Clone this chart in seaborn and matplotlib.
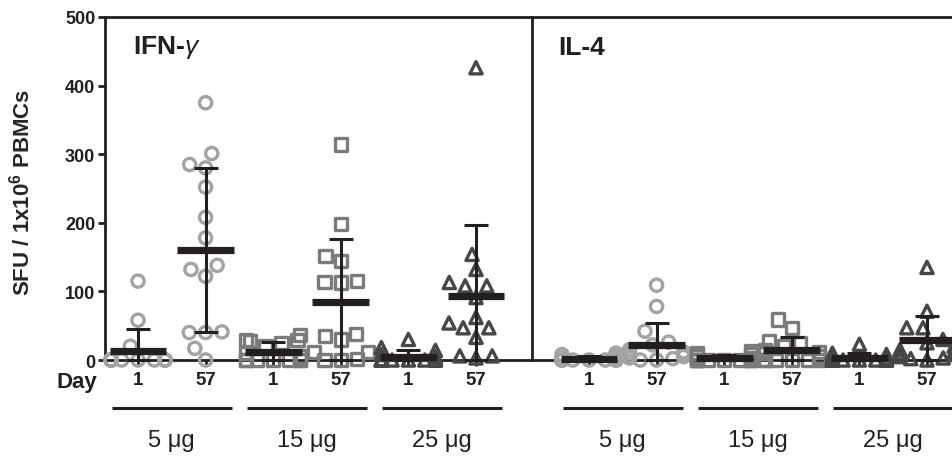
import warnings
import numpy as np
import pandas as pd
import matplotlib
matplotlib.use("Agg")
import matplotlib.pyplot as plt
import matplotlib.transforms as mtransforms
import seaborn as sns

warnings.filterwarnings("ignore")

# ---------------- data ----------------
cytokines = ["IFN-γ", "IL-4"]
doses = ["5 μg", "15 μg", "25 μg"]
days = ["1", "57"]

ifn_5_d1 = [115, 58, 20, 0, 0, 0, 0, 0, 0, 0, 0, 0, 0, 0, 0]
ifn_5_d57 = [375, 301, 285, 280, 252, 208, 178, 138, 132, 122, 40, 40, 41, 17, 0]
ifn_15_d1 = [37, 29, 29, 28, 25, 20, 10, 5, 0, 0, 0, 0, 0, 0, 0]
ifn_15_d57 = [314, 198, 152, 144, 115, 114, 113, 35, 38, 30, 12, 12, 2, 0, 0]
ifn_25_d1 = [30, 18, 14, 8, 5, 0, 0, 0, 0, 0, 0, 0, 0, 0, 0]
ifn_25_d57 = [426, 154, 132, 113, 108, 108, 91, 62, 54, 47, 47, 33, 6, 6, 3]

il4_5_d1 = [10, 8, 5, 3, 2, 0, 0, 0, 0, 0, 0, 0, 0, 0, 0]
il4_5_d57 = [109, 78, 42, 26, 22, 15, 12, 10, 8, 5, 5, 3, 2, 0, 0]
il4_15_d1 = [13, 10, 8, 5, 3, 0, 0, 0, 0, 0, 0, 0, 0, 0, 0]
il4_15_d57 = [59, 47, 28, 25, 20, 15, 12, 10, 5, 0, 0, 0, 0, 0, 0]
il4_25_d1 = [23, 10, 8, 5, 3, 2, 0, 0, 0, 0, 0, 0, 0, 0, 0]
il4_25_d57 = [135, 71, 47, 47, 30, 25, 20, 15, 12, 10, 8, 5, 3, 2, 0]

series = [
    ("IFN-γ", "5 μg", "1", ifn_5_d1), ("IFN-γ", "5 μg", "57", ifn_5_d57),
    ("IFN-γ", "15 μg", "1", ifn_15_d1), ("IFN-γ", "15 μg", "57", ifn_15_d57),
    ("IFN-γ", "25 μg", "1", ifn_25_d1), ("IFN-γ", "25 μg", "57", ifn_25_d57),
    ("IL-4", "5 μg", "1", il4_5_d1), ("IL-4", "5 μg", "57", il4_5_d57),
    ("IL-4", "15 μg", "1", il4_15_d1), ("IL-4", "15 μg", "57", il4_15_d57),
    ("IL-4", "25 μg", "1", il4_25_d1), ("IL-4", "25 μg", "57", il4_25_d57),
]

rows = []
for cyto, dose, day, vals in series:
    for v in vals:
        rows.append({"cytokine": cyto, "dose": dose, "day": day,
                     "group": f"{dose} d{day}", "sfu": v})
df = pd.DataFrame(rows)
order = [f"{d} d{day}" for d in doses for day in days]

# ---------------- style ----------------
sns.set_theme(style="ticks")
ink = "#231f20"
plt.rcParams["font.family"] = ["Liberation Sans", "DejaVu Sans"]
plt.rcParams["mathtext.fontset"] = "custom"
plt.rcParams["mathtext.rm"] = "Liberation Sans"
plt.rcParams["mathtext.it"] = "Liberation Sans:italic"
plt.rcParams["mathtext.bf"] = "Liberation Sans:bold"
plt.rcParams["text.color"] = ink
plt.rcParams["axes.edgecolor"] = ink
plt.rcParams["xtick.color"] = ink
plt.rcParams["ytick.color"] = ink

markers = {"5 μg": "o", "15 μg": "s", "25 μg": "^"}
colors = {"5 μg": "#a3a3a3", "15 μg": "#7b7b7b", "25 μg": "#474747"}

W, H = 953, 460
fig = plt.figure(figsize=(W / 100, H / 100), dpi=100)
fig.patch.set_facecolor("white")

y0_px, y1_px = 361, 18
axL = fig.add_axes([105 / W, 1 - y0_px / H, 427 / W, (y0_px - y1_px) / H])
axR = fig.add_axes([532 / W, 1 - y0_px / H, (W - 532 + 2) / W, (y0_px - y1_px) / H])

spacing = 67.6
xlims = {"IFN-γ": ((105 - 138) / spacing, (532 - 138) / spacing),
         "IL-4": ((532 - 589) / spacing, (W + 2 - 589) / spacing)}
titles = {"IFN-γ": "IFN-$\\gamma$", "IL-4": "IL-4"}

lw_spine = 2.0
for ax, cyto in zip([axL, axR], cytokines):
    sub = df[df.cytokine == cyto]
    for dose in doses:
        d = sub[sub.dose == dose]
        n0 = len(ax.collections)
        sns.swarmplot(data=d, x="group", y="sfu", order=order, ax=ax,
                      marker=markers[dose], color=colors[dose], size=8.8,
                      linewidth=2.4, warn_thresh=1, zorder=3)
        for coll in list(ax.collections[n0:]):
            if len(coll.get_offsets()) == 0:
                coll.remove()
                continue
            coll.set_facecolor("none")
            coll.set_edgecolor(colors[dose])
            coll.set_linewidth(2.4)
            coll.set_clip_on(False)

    stats = sub.groupby("group")["sfu"].agg(["mean", "std"]).reindex(order)
    pos = np.arange(len(order))
    means = stats["mean"].to_numpy()
    sds = stats["std"].to_numpy()
    lower = np.minimum(sds, means)
    ax.errorbar(pos, means, yerr=[lower, sds], fmt="none", ecolor=ink,
                elinewidth=2.2, capsize=8.3, capthick=2.2, zorder=4, clip_on=False)
    ax.hlines(means, pos - 0.42, pos + 0.42, colors=ink, linewidth=5.2,
              zorder=5, clip_on=False)

    ax.set_ylim(0, 500)
    ax.set_xlim(*xlims[cyto])
    ax.set_xticks(pos)
    ax.set_xticklabels(days * 3, fontsize=13.5, fontweight="bold")
    ax.tick_params(axis="x", direction="out", length=4, width=lw_spine, pad=4)
    ax.set_xlabel("")
    ax.set_ylabel("")
    for s in ["left", "top", "bottom"]:
        ax.spines[s].set_linewidth(lw_spine)
        ax.spines[s].set_color(ink)
    ax.spines["right"].set_visible(False)
    ax.set_facecolor("none")

    ax.text(0.066 if cyto == "IFN-γ" else 0.063, 0.913, titles[cyto],
            transform=ax.transAxes, fontsize=19, fontweight="bold",
            ha="left", va="center")

    # dose group underlines and labels
    trans = mtransforms.blended_transform_factory(ax.transData, ax.transAxes)
    for i, dose in enumerate(doses):
        c = 2 * i + 0.5
        ax.plot([c - 0.885, c + 0.885], [-0.14, -0.14], transform=trans,
                color=ink, linewidth=2.2, clip_on=False, solid_capstyle="butt")
        ax.text(c, -0.232, dose, transform=trans, ha="center", va="center",
                fontsize=17)

axL.set_yticks([0, 100, 200, 300, 400, 500])
axL.tick_params(axis="y", direction="out", length=5, width=lw_spine, pad=2,
                labelsize=13)
for lab in axL.get_yticklabels():
    lab.set_fontweight("bold")
axL.set_ylabel("SFU / 1x10$^{\\mathbf{6}}$ PBMCs", fontsize=16,
               fontweight="bold")
axL.yaxis.set_label_coords(-0.165, 0.49)

axR.tick_params(axis="y", left=False, labelleft=False)

fig.text(77 / W, 1 - 383 / H, "Day", ha="center", va="center",
         fontsize=16, fontweight="bold")

fig.savefig("out.png", dpi=100, facecolor="white")
